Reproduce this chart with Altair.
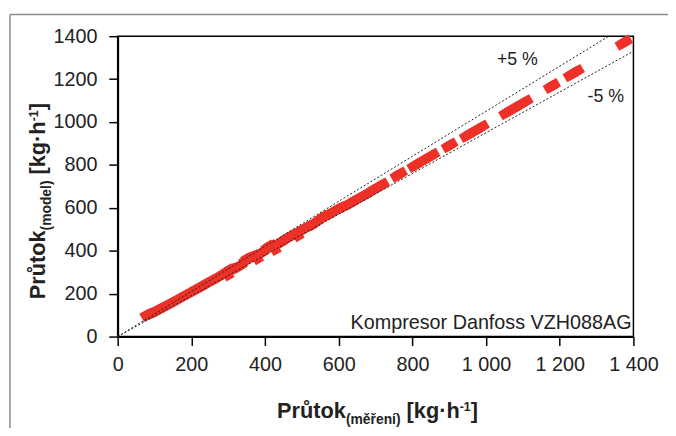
import altair as alt
import pandas as pd

FONT = "Liberation Sans, Arial, sans-serif"
RED = "#EE3128"

meas_low = [76, 82, 88, 96, 104, 112, 120, 128, 136, 144, 152, 160, 168, 176, 184, 192,
            200, 208, 216, 224, 232, 240, 248, 256, 264, 272, 280, 288, 296, 300, 304,
            312, 320, 328, 336, 344, 350, 358, 366, 374, 380, 388, 396, 404, 412, 420,
            428, 436, 444, 452, 460, 468, 476, 484, 490, 496, 504, 512, 520, 528, 536,
            544, 552, 560, 568, 576, 584, 592, 600, 608, 614, 628, 636, 644, 652, 660,
            668, 676, 684, 692, 700, 708, 716, 722]
model_low = [98, 102, 106, 112, 118, 126, 134, 140, 148, 155, 162, 170, 178, 185, 193, 200,
             208, 215, 223, 230, 238, 246, 254, 262, 268, 276, 285, 292, 302, 286, 312,
             315, 318, 326, 335, 350, 362, 368, 372, 378, 362, 388, 396, 412, 422, 425,
             405, 432, 440, 450, 458, 466, 475, 480, 470, 492, 500, 508, 516, 520, 530,
             540, 550, 560, 565, 572, 580, 588, 596, 602, 606, 618, 626, 634, 642, 650,
             657, 664, 672, 682, 690, 697, 705, 712]
meas_high = [755, 763, 771,
             801, 811, 821, 831, 841, 851, 859,
             894, 901, 908,
             943, 953, 963, 973, 983, 993,
             1050, 1060, 1070, 1080, 1090, 1100, 1112,
             1171, 1178, 1186,
             1225, 1233, 1242, 1251,
             1366, 1374, 1382]
model_high = [747, 755, 763,
              792, 802, 812, 822, 832, 842, 850,
              884, 891, 898,
              932, 942, 952, 962, 972, 982,
              1038, 1048, 1058, 1068, 1078, 1088, 1100,
              1160, 1167, 1175,
              1215, 1223, 1232, 1241,
              1362, 1370, 1378]

plus_x, plus_y = [0, 1333], [0, 1400]
minus_x, minus_y = [0, 1400], [0, 1330]
ticks = [0, 200, 400, 600, 800, 1000, 1200, 1400]

points = pd.DataFrame({"x": meas_low + meas_high, "y": model_low + model_high})
lines = pd.DataFrame({"x": plus_x + minus_x, "y": plus_y + minus_y,
                      "band": ["+5", "+5", "-5", "-5"]})

W_ = 522
H_ = 304

xs = alt.X("x:Q", scale=alt.Scale(domain=[0, 1400], nice=False),
           axis=alt.Axis(values=ticks, title=None, labelPadding=9, labelOverlap=False,
                         labelFlush=False,
                         labelExpr="datum.value >= 1000 ? floor(datum.value/1000) + ' ' + format(datum.value % 1000, '03d') : '' + datum.value"))
ys = alt.Y("y:Q", scale=alt.Scale(domain=[0, 1400], nice=False),
           axis=alt.Axis(values=ticks, title=None, labelPadding=12, labelOverlap=False,
                         labelFlush=False, labelExpr="'' + datum.value"))

pts = alt.Chart(points).mark_point(shape="square", filled=True, size=90, angle=60,
                                   color=RED, opacity=1).encode(x=xs, y=ys)
lns = alt.Chart(lines).mark_line(color="#222", strokeWidth=1, strokeDash=[2, 2]).encode(
    x="x:Q", y="y:Q", detail="band:N")

dummy = pd.DataFrame({"d": [0]})

def ann(text, x, y, size, align):
    return alt.Chart(dummy).mark_text(text=text, font=FONT, fontSize=size, align=align,
                                      baseline="alphabetic", color="#222").encode(
        x=alt.datum(x), y=alt.datum(y))

annots = [ann("+5 %", 1085, 1265, 18, "center"),
          ann("-5 %", 1325, 1095, 18, "center"),
          ann("Kompresor Danfoss VZH088AG", 1395, 35, 20, "right")]

# width table for title layout (Arial Bold, 1/1000 em)
WID = {"P": 667, "r": 389, "ů": 611, "t": 333, "o": 611, "k": 556, "(": 333, ")": 333,
       "m": 889, "ě": 556, "ř": 389, "e": 556, "n": 611, "í": 278, "d": 611, "l": 278,
       " ": 278, "[": 333, "]": 333, "g": 611, "·": 333, "h": 611, "-": 333, "1": 556}

def tw(s, size):
    return sum(WID[c] for c in s) * size / 1000.0

def piece(text, x, y, size, angle):
    return alt.Chart(dummy).mark_text(text=text, font=FONT, fontWeight="bold", fontSize=size,
                                      align="left", baseline="alphabetic", angle=angle,
                                      color="#222").encode(x=alt.value(x), y=alt.value(y))

def title_pieces(sub):
    return [("Průtok", 22, 0), (sub, 14, 7), (" [kg·h", 22, 0), ("-1", 12.5, -7), ("]", 22, 0)]

titles = []
px = title_pieces("(měření)")
total = sum(tw(t, s) for t, s, _ in px)
cx = 382 - 119 - total / 2
for t, s, off in px:
    lead = tw(" ", s) if t.startswith(" ") else 0
    titles.append(piece(t.strip(), cx + lead, 420 - 34 + off, s, 0))
    cx += tw(t, s)

py = title_pieces("(model)")
total = sum(tw(t, s) for t, s, _ in py)
cy = 201 - 34 + total / 2
for t, s, off in py:
    lead = tw(" ", s) if t.startswith(" ") else 0
    titles.append(piece(t.strip(), 45 - 119 + off, cy - lead, s, 270))
    cy -= tw(t, s)

frame_left = alt.Chart(dummy).mark_rule(color="#8a8a8a", strokeWidth=1.5).encode(
    x=alt.value(-109), y=alt.value(-22), y2=alt.value(500))
frame_top = alt.Chart(dummy).mark_rule(color="#8a8a8a", strokeWidth=1.5).encode(
    x=alt.value(-109), x2=alt.value(557), y=alt.value(-22))

chart = alt.layer(pts, lns, *annots, *titles, frame_left, frame_top).properties(
    width=W_, height=H_, background="white",
    autosize=alt.AutoSizeParams(type="none"),
    padding={"left": 111, "top": 26, "right": 35, "bottom": 90},
).configure_view(stroke="black", strokeWidth=1.5).configure_axis(
    grid=False, domainColor="black", domainWidth=2, tickColor="black", tickWidth=1.5,
    tickSize=9, labelFont=FONT, labelFontSize=20, labelColor="#222",
)

chart.save("out.html", embed_options={"renderer": "svg", "actions": False})
